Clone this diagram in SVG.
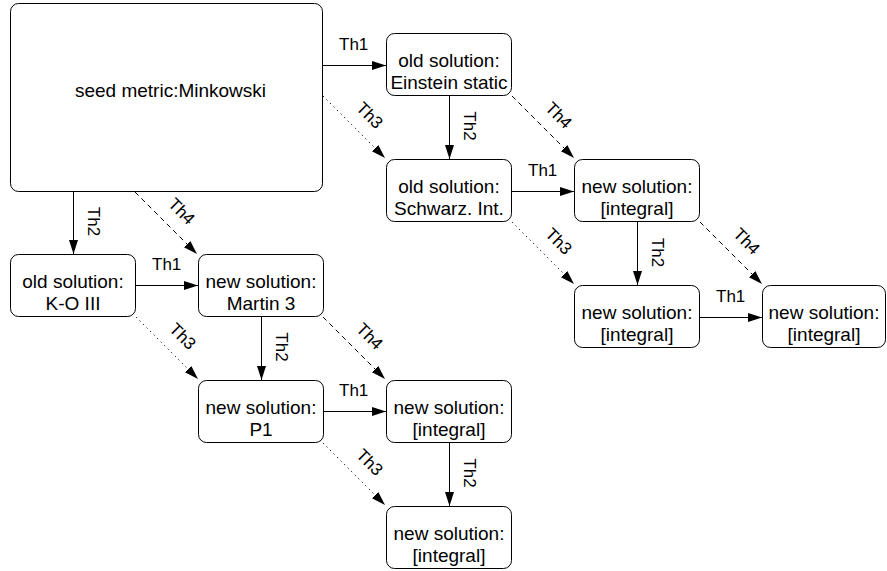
<svg xmlns="http://www.w3.org/2000/svg" width="887" height="571" viewBox="0 0 887 571">
<style>
.node rect{fill:#fff;stroke:#000;stroke-width:1}
.nt{font-family:"Liberation Sans",Arial,sans-serif;font-size:19px;text-anchor:middle;fill:#000}
.el{font-family:"Liberation Sans",Arial,sans-serif;font-size:17px;fill:#000}
.em{text-anchor:middle;dominant-baseline:central}
.c{fill:none;stroke:#000;stroke-width:1}
.solid{marker-end:url(#ah)}
.dot{stroke-dasharray:1.2 3.8;marker-end:url(#ah)}
.dash{stroke-dasharray:5 4;marker-end:url(#ah)}
</style>
<defs>
<marker id="ah" markerUnits="userSpaceOnUse" markerWidth="16" markerHeight="12" refX="14" refY="4.5" orient="auto">
<path d="M0,0 L14,4.5 L0,9 z" fill="#000"/>
</marker>
</defs>
<rect width="887" height="571" fill="#fff"/>
<g id="connectors">
<path class="c solid" d="M323,65.5 H386"/>
<path class="c solid" d="M512,191.5 H574"/>
<path class="c solid" d="M700,317.5 H762"/>
<path class="c solid" d="M136,285.5 H198"/>
<path class="c solid" d="M323,411.5 H386"/>
<path class="c solid" d="M449.5,96 V159"/>
<path class="c solid" d="M73.5,192 V254"/>
<path class="c solid" d="M261.5,317 V380"/>
<path class="c solid" d="M637.5,222 V285"/>
<path class="c solid" d="M449.5,443 V506"/>
<path class="c dot" d="M323,96 L385,158"/>
<path class="c dash" d="M512,96 L574,158"/>
<path class="c dot" d="M512,222 L574,284"/>
<path class="c dash" d="M700,222 L762,284"/>
<path class="c dash" d="M135,192 L197,254"/>
<path class="c dot" d="M136,317 L198,379"/>
<path class="c dash" d="M323,317 L385,379"/>
<path class="c dot" d="M323,443 L385,505"/>
<text class="el" x="339" y="49.5">Th1</text>
<text class="el" x="528" y="175.5">Th1</text>
<text class="el" x="716" y="301.5">Th1</text>
<text class="el" x="152" y="269.5">Th1</text>
<text class="el" x="339" y="395.5">Th1</text>
<text class="el" text-anchor="middle" transform="translate(463.5,126) rotate(90)">Th2</text>
<text class="el" text-anchor="middle" transform="translate(87.5,221.5) rotate(90)">Th2</text>
<text class="el" text-anchor="middle" transform="translate(275.5,347) rotate(90)">Th2</text>
<text class="el" text-anchor="middle" transform="translate(652,252.5) rotate(90)">Th2</text>
<text class="el" text-anchor="middle" transform="translate(463.5,473) rotate(90)">Th2</text>
<text class="el em" transform="translate(369.5,115.5) rotate(45)">Th3</text>
<text class="el em" transform="translate(558.5,115.5) rotate(45)">Th4</text>
<text class="el em" transform="translate(558.5,241.5) rotate(45)">Th3</text>
<text class="el em" transform="translate(746.5,241.5) rotate(45)">Th4</text>
<text class="el em" transform="translate(181.5,211.5) rotate(45)">Th4</text>
<text class="el em" transform="translate(182.5,336.5) rotate(45)">Th3</text>
<text class="el em" transform="translate(369.5,336.5) rotate(45)">Th4</text>
<text class="el em" transform="translate(369.5,462.5) rotate(45)">Th3</text>
</g>
<g id="seed" class="node">
<rect x="10.5" y="3.5" width="312" height="188" rx="8"/>
<text class="nt" x="170.5" y="97">seed metric:Minkowski</text>
</g>
<g id="einstein" class="node">
<rect x="386.5" y="33.5" width="125" height="62" rx="8"/>
<text class="nt" x="449" y="66.5">old solution:</text>
<text class="nt" x="449" y="88.5">Einstein static</text>
</g>
<g id="schwarz" class="node">
<rect x="386.5" y="159.5" width="125" height="62" rx="8"/>
<text class="nt" x="449" y="192.5">old solution:</text>
<text class="nt" x="449" y="214.5">Schwarz. Int.</text>
</g>
<g id="r2c3" class="node">
<rect x="574.5" y="159.5" width="125" height="62" rx="8"/>
<text class="nt" x="637" y="192.5">new solution:</text>
<text class="nt" x="637" y="214.5">[integral]</text>
</g>
<g id="r3c3" class="node">
<rect x="574.5" y="285.5" width="125" height="62" rx="8"/>
<text class="nt" x="637" y="318.5">new solution:</text>
<text class="nt" x="637" y="340.5">[integral]</text>
</g>
<g id="r3c4" class="node">
<rect x="762.5" y="285.5" width="123" height="62" rx="8"/>
<text class="nt" x="824" y="318.5">new solution:</text>
<text class="nt" x="824" y="340.5">[integral]</text>
</g>
<g id="ko" class="node">
<rect x="10.5" y="254.5" width="125" height="62" rx="8"/>
<text class="nt" x="73" y="287.5">old solution:</text>
<text class="nt" x="73" y="309.5">K-O III</text>
</g>
<g id="martin" class="node">
<rect x="198.5" y="254.5" width="125" height="62" rx="8"/>
<text class="nt" x="261" y="287.5">new solution:</text>
<text class="nt" x="261" y="309.5">Martin 3</text>
</g>
<g id="p1" class="node">
<rect x="198.5" y="380.5" width="125" height="62" rx="8"/>
<text class="nt" x="261" y="413.5">new solution:</text>
<text class="nt" x="261" y="435.5">P1</text>
</g>
<g id="r4c3" class="node">
<rect x="386.5" y="380.5" width="125" height="62" rx="8"/>
<text class="nt" x="449" y="413.5">new solution:</text>
<text class="nt" x="449" y="435.5">[integral]</text>
</g>
<g id="r5c3" class="node">
<rect x="386.5" y="506.5" width="125" height="62" rx="8"/>
<text class="nt" x="449" y="539.5">new solution:</text>
<text class="nt" x="449" y="561.5">[integral]</text>
</g>
</svg>
